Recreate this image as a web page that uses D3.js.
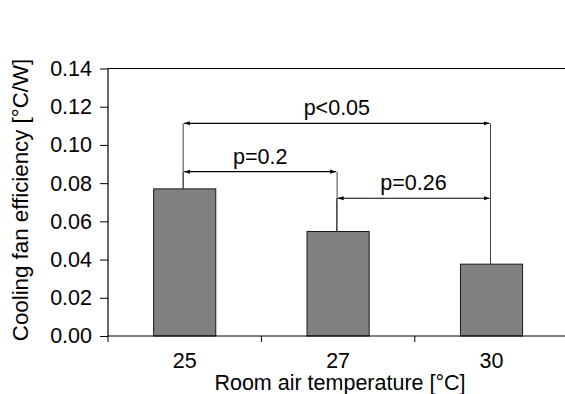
<!DOCTYPE html>
<html>
<head>
<meta charset="utf-8">
<script src="https://cdn.jsdelivr.net/npm/d3@7/dist/d3.min.js"></script>
<style>
  html, body { margin: 0; padding: 0; background: #fff; }
  svg text { font-family: "Liberation Sans", Arial, sans-serif; fill: #000; }
</style>
</head>
<body>
<svg id="chart" width="565" height="394"></svg>
<script>
// Room temperatures and mean cooling fan efficiency
const temperatures = ["25", "27", "30"];
const efficiency = [0.077, 0.0547, 0.0376];
const yTicks = [0.00, 0.02, 0.04, 0.06, 0.08, 0.10, 0.12, 0.14];

// Pairwise comparisons: indices of the two groups, bracket level, p-value label
const compareFrom = [0, 0, 1];
const compareTo = [2, 1, 2];
const compareLevel = [0.1113, 0.086, 0.0721];
const compareLabel = ["p<0.05", "p=0.2", "p=0.26"];

const svg = d3.select("#chart");
const W = 565, H = 394;
const plotLeft = 108, plotTop = 68.5, plotBottom = 336;
const fontSize = 21.5;

const x = d3.scaleBand().domain(temperatures).range([plotLeft, plotLeft + 3 * 153.4]).padding(0);
const y = d3.scaleLinear().domain([0, 0.14]).range([plotBottom, plotTop]);
const barW = x.bandwidth() * 0.405;
const cx = i => x(temperatures[i]) + x.bandwidth() / 2;

// arrowhead marker
const defs = svg.append("defs");
defs.append("marker")
  .attr("id", "arr").attr("viewBox", "0 0 10 10")
  .attr("refX", 10).attr("refY", 5)
  .attr("markerWidth", 6).attr("markerHeight", 6)
  .attr("markerUnits", "userSpaceOnUse")
  .attr("orient", "auto-start-reverse")
  .append("path").attr("d", "M0,1.5 L10,5 L0,8.5 Z").attr("fill", "#000");

// plot frame top edge
svg.append("line")
  .attr("x1", plotLeft).attr("x2", W).attr("y1", plotTop).attr("y2", plotTop)
  .attr("stroke", "#000").attr("stroke-width", 1.2);

// bars
svg.append("g").selectAll("rect").data(efficiency).join("rect")
  .attr("x", (d, i) => cx(i) - barW / 2)
  .attr("width", barW)
  .attr("y", d => y(d))
  .attr("height", d => plotBottom - y(d))
  .attr("fill", "#808080")
  .attr("stroke", "#1a1a1a").attr("stroke-width", 1);

// y axis
const yAxis = d3.axisLeft(y).tickValues(yTicks).tickFormat(d3.format(".2f"))
  .tickSize(8).tickPadding(8);
const gy = svg.append("g").attr("transform", `translate(${plotLeft},0)`).call(yAxis);
gy.select(".domain").attr("d", `M0,${plotTop}V${plotBottom}`).attr("stroke", "#000").attr("stroke-width", 1.2);
gy.selectAll(".tick line").attr("stroke", "#000");
gy.selectAll("text").style("font-size", fontSize + "px");

// x axis: ticks at group boundaries, labels centred in each group
const edges = temperatures.map(t => x(t)).concat([x(temperatures[2]) + x.bandwidth()]);
const gx = svg.append("g");
gx.append("line").attr("x1", plotLeft).attr("x2", W).attr("y1", plotBottom).attr("y2", plotBottom)
  .attr("stroke", "#000").attr("stroke-width", 1.2);
gx.selectAll("line.tk").data(edges).join("line").attr("class", "tk")
  .attr("x1", d => d).attr("x2", d => d)
  .attr("y1", plotBottom).attr("y2", plotBottom + 6)
  .attr("stroke", "#000");
gx.selectAll("text").data(temperatures).join("text")
  .attr("x", (d, i) => cx(i)).attr("y", 367.5)
  .attr("text-anchor", "middle").style("font-size", fontSize + "px")
  .text(d => d);

// axis titles
svg.append("text")
  .attr("x", 340).attr("y", 390).attr("text-anchor", "middle")
  .style("font-size", fontSize + "px")
  .text("Room air temperature [°C]");
svg.append("text")
  .attr("transform", `translate(28,200) rotate(-90)`)
  .attr("text-anchor", "middle")
  .style("font-size", "22.3px")
  .text("Cooling fan efficiency [°C/W]");

// significance brackets
const gc = svg.append("g");
compareLabel.forEach((lab, k) => {
  const a = compareFrom[k], b = compareTo[k];
  const ly = y(compareLevel[k]);
  const xa = cx(a) - 1.5, xb = cx(b) - 1;
  gc.append("line").attr("x1", xa).attr("x2", xa)
    .attr("y1", y(efficiency[a])).attr("y2", ly)
    .attr("stroke", "#444").attr("stroke-width", 1);
  gc.append("line").attr("x1", xb).attr("x2", xb)
    .attr("y1", y(efficiency[b])).attr("y2", ly)
    .attr("stroke", "#444").attr("stroke-width", 1);
  gc.append("line").attr("x1", xa + 1).attr("x2", xb - 1)
    .attr("y1", ly).attr("y2", ly)
    .attr("stroke", "#000").attr("stroke-width", 1.2)
    .attr("marker-start", "url(#arr)").attr("marker-end", "url(#arr)");
  gc.append("text")
    .attr("x", (xa + xb) / 2).attr("y", ly - 8)
    .attr("text-anchor", "middle").style("font-size", fontSize + "px")
    .text(lab);
});
</script>
</body>
</html>
